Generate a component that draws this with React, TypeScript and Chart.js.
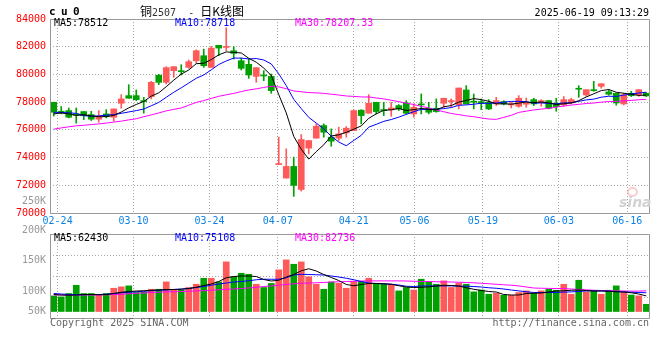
import React, { useEffect, useRef } from 'react';
import { Chart, registerables } from 'chart.js';

Chart.register(...registerables);

// ---------------- DATA ----------------
const dates = ['02-21','02-24','02-25','02-26','02-27','02-28','03-03','03-04','03-05','03-06','03-07','03-10','03-11','03-12','03-13','03-14','03-17','03-18','03-19','03-20','03-21','03-24','03-25','03-26','03-27','03-28','03-31','04-01','04-02','04-03','04-07','04-08','04-09','04-10','04-11','04-14','04-15','04-16','04-17','04-18','04-21','04-22','04-23','04-24','04-25','04-28','04-29','04-30','05-06','05-07','05-08','05-09','05-12','05-13','05-14','05-15','05-16','05-19','05-20','05-21','05-22','05-23','05-26','05-27','05-28','05-29','05-30','06-03','06-04','06-05','06-06','06-09','06-10','06-11','06-12','06-13','06-16','06-17','06-18','06-19'];

const tickLabels = ['02-24','03-10','03-24','04-07','04-21','05-06','05-19','06-03','06-16'];

const opens = [77990,77340,77390,77150,77320,77100,76770,77150,76910,77920,78470,78470,78110,78400,79940,79430,80270,80270,80510,80990,81350,80510,82100,81950,81710,80990,80730,79860,79960,79860,73500,72520,73360,71700,74680,75400,76310,75470,75400,75780,75950,77420,77200,77990,77440,77440,77750,77940,77150,77870,77560,77560,77920,78040,77800,78880,78070,78040,77990,77870,78040,77800,77700,77850,78180,77970,78110,77920,77800,77940,79000,78520,78900,79140,78740,78640,77870,78640,78520,78640];
const highs = [78000,77680,77580,77580,77320,77340,77390,77460,77510,78540,79260,78880,78350,79500,80010,80560,80560,80700,81040,81780,81830,82020,82100,83370,82000,81180,81110,80490,80270,80030,75470,74630,74030,75660,75230,76430,76430,76070,76190,76240,77440,77450,78540,77990,77990,77990,77820,78110,77870,78590,77990,78230,78280,78230,79020,79190,78590,78230,78180,78350,78100,77990,78470,78300,78280,78180,78110,78280,78400,78280,79190,78900,79500,79330,78900,78640,78640,78780,78900,78700];
const lows = [77000,77150,76860,76480,76740,76670,76550,76860,76620,77560,78280,78110,77200,78230,79260,79310,79790,79960,80440,80820,80510,80510,81350,81710,81110,80320,79720,79430,79550,78640,73500,72520,71200,71580,74270,75400,75470,74820,75230,75470,75950,76430,77200,77150,77030,76980,77390,77150,76910,77150,77150,77270,77630,77630,77510,77870,77510,77460,77460,77750,77800,77580,77630,77630,77750,77700,77510,77340,77700,77870,78350,78420,78780,79000,78500,77780,77800,78400,78420,78400];
const closes = [77270,77220,76910,77060,77030,76770,76960,76960,77510,78230,78280,78180,78040,79430,79430,80490,80560,80200,80920,81710,80630,81900,81900,81990,81520,80440,79960,80490,79890,78830,73550,73360,71990,75300,75230,76260,75830,75180,75710,76120,77390,77030,77920,77320,77390,77580,77510,77200,77630,77800,77270,77320,78280,78110,79020,77870,77990,77920,77510,78110,77870,77870,78280,77920,77870,78110,77560,77680,78180,78180,78930,78900,78830,79330,78570,77940,78540,78470,78900,78450];

const ma5 = [77150,77220,77150,77040,77098,76998,76946,76956,77046,77286,77588,77832,78048,78432,78672,79114,79590,80022,80320,80776,80804,81072,81412,81626,81588,81550,81162,80880,80460,79922,78544,77224,75524,74606,73886,74428,74922,75560,75642,75820,76046,76286,76834,77156,77410,77448,77544,77400,77462,77544,77482,77444,77660,77756,78000,78120,78254,78182,78062,77880,77880,77856,77928,78010,77962,78010,77948,77828,77880,77942,78106,78374,78604,78834,78912,78714,78642,78570,78484,78512];
const ma10 = [77270,77250,77230,77190,77020,76990,77010,77060,77100,77192,77293,77389,77502,77739,77979,78351,78711,79035,79376,79724,79959,80331,80717,80973,81182,81177,81117,81146,81043,80755,80047,79193,78202,77533,76904,76486,76073,75542,75124,74853,75237,75604,76197,76399,76615,76747,76915,77117,77309,77477,77465,77494,77530,77609,77772,77801,77849,77921,77909,77940,78000,78055,78055,78036,77921,77945,77902,77878,77945,77952,78058,78161,78216,78357,78427,78410,78508,78587,78659,78718];
const ma30 = [76050,76140,76220,76290,76330,76380,76430,76490,76560,76630,76720,76800,76950,77080,77220,77370,77480,77580,77780,77980,78110,78270,78420,78530,78630,78760,78880,78960,79060,79150,79100,78971,78807,78748,78688,78671,78634,78574,78514,78444,78414,78376,78372,78302,78234,78137,78035,77935,77825,77695,77583,77430,77310,77180,77097,77011,76946,76860,76781,76757,76901,77051,77261,77348,77436,77498,77555,77639,77721,77790,77841,77903,77934,78001,78040,78052,78086,78128,78170,78207.33];

const volumes = [62400,58400,72000,105000,72000,72000,65000,72000,93000,98500,102500,76000,78500,89000,89000,118500,89000,86000,96000,109000,133000,133000,118500,198500,138500,153000,149000,109000,96000,112000,166500,206500,189000,198500,138500,109000,89000,118000,113000,93000,120000,120000,133000,113000,109000,109000,82500,96000,86000,129000,118500,109000,122500,96000,113000,109000,78500,86000,69000,73000,65000,65000,76000,82500,73000,82500,89000,85000,109000,69000,125000,78500,82500,69000,85000,102500,78500,66000,62500,29000];
const volMa5 = [68000,66000,65000,66000,68000,68000,67000,68000,72000,77000,80000,82000,83000,85000,86000,88000,88000,89000,92000,97000,104000,110000,120000,135000,140000,142000,142000,140000,128000,122000,125000,138000,148000,163000,171000,162000,148000,136000,124000,108000,103000,108000,112000,112000,111000,109000,103000,98000,96000,97000,98500,102000,105000,104000,102000,95000,89000,84000,80000,78000,68000,66000,66000,72000,73000,74000,78000,82000,83000,85000,86000,84000,82000,82000,81000,79000,78000,75000,70000,62430];
const volMa10 = [72000,70000,68000,67000,67000,68000,68000,69000,72000,75000,77000,79000,81000,83000,85000,86000,88000,90000,92000,96000,100000,105000,110000,114000,118000,120000,123000,127000,129000,129000,129000,135000,146000,149000,148000,147000,146000,142000,138000,133000,127000,120000,114000,112000,111000,109000,106000,101000,100000,102000,102500,102500,102500,102500,101500,101000,100000,98000,95000,93000,90000,86000,82500,79000,76000,76000,76000,76500,77500,78500,80000,82500,82500,82500,81500,80000,78500,77000,76000,75108];
const volMa30 = [66000,66000,66000,66000,66000,66000,66000,67000,68000,69000,71000,73000,74000,76000,77000,78500,79000,80000,81000,82500,83000,85000,87000,89000,90000,92000,94000,97000,100000,102000,105000,108000,111000,113000,114000,115000,116000,118000,119000,120000,121000,122000,122500,122500,122500,122500,122500,122000,121000,120000,120000,119000,118500,118000,117000,116000,115000,113000,111000,109000,107000,105000,102500,98000,94000,93000,92500,92000,92000,90000,88500,86500,85000,84000,83000,82500,82000,81500,81500,82736];

const priceMin = 70000;
const priceMax = 84000;
const priceStep = 2000;
const volMin = -26000;
const volMax = 310000;
const volumeAxisLabels = ['250K', '200K', '150K', '100K', '50K'];

// ---------------- STYLE ----------------
const UP = '#ff5a5a';
const DOWN = '#00a000';
const GRID = '#a8a8a8';
const FRAME = '#999999';
const MONO = '"DejaVu Sans Mono", monospace';

const candleColors = closes.map((c, i) => (c >= opens[i] ? UP : DOWN));
const tickIdx = tickLabels.map((l) => dates.indexOf(l));

const framePlugin = {
  id: 'frame',
  afterDraw(chart: any) {
    const { ctx, chartArea: a } = chart;
    ctx.save();
    ctx.strokeStyle = FRAME;
    ctx.lineWidth = 1;
    ctx.beginPath();
    ctx.moveTo(a.left + 0.5, a.top + 0.5);
    ctx.lineTo(a.right - 0.5, a.top + 0.5);
    ctx.lineTo(a.right - 0.5, a.bottom + 0.5);
    ctx.lineTo(a.left + 0.5, a.bottom + 0.5);
    ctx.closePath();
    ctx.stroke();
    ctx.restore();
  },
};

const lineDs = (label: string, data: number[], color: string) => ({
  type: 'line' as const,
  label,
  data,
  borderColor: color,
  backgroundColor: color,
  borderWidth: 1,
  pointRadius: 0,
  tension: 0,
  fill: false,
  order: 0,
  xAxisID: 'x',
  yAxisID: 'y',
});

const dateAxis = (showLabels: boolean, height: number) => ({
  type: 'linear' as const,
  position: 'bottom' as const,
  offset: false,
  min: 0,
  max: dates.length - 1,
  afterBuildTicks: (s: any) => {
    s.ticks = tickIdx.map((v) => ({ value: v }));
  },
  afterFit: (s: any) => {
    s.height = height;
  },
  ticks: {
    display: showLabels,
    autoSkip: false,
    maxRotation: 0,
    padding: 2,
    color: '#0a82e6',
    font: { family: MONO, size: 10 },
    callback: (v: any) => dates[v as number],
  },
  grid: { color: GRID, drawTicks: false, lineWidth: 1, offset: false },
  border: { display: false, dash: [1, 2] },
});

function mainConfig(): any {
  return {
    type: 'bar',
    data: {
      labels: dates,
      datasets: [
        lineDs('MA5', ma5, '#000000'),
        lineDs('MA10', ma10, '#0000ff'),
        lineDs('MA30', ma30, '#ff00ff'),
        {
          type: 'bar',
          label: 'wick',
          data: lows.map((l, i) => [l, highs[i]]),
          backgroundColor: candleColors,
          barThickness: 1,
          grouped: false,
          order: 2,
          xAxisID: 'x',
          yAxisID: 'y',
        },
        {
          type: 'bar',
          label: 'body',
          data: opens.map((o, i) => [o, closes[i]]),
          backgroundColor: candleColors,
          barThickness: 6,
          minBarLength: 1,
          grouped: false,
          order: 1,
          xAxisID: 'x',
          yAxisID: 'y',
        },
      ],
    },
    options: {
      responsive: false,
      animation: false,
      events: [],
      layout: { padding: { top: 19, right: 10, left: 0, bottom: 0 } },
      plugins: { legend: { display: false }, tooltip: { enabled: false } },
      scales: {
        x: { type: 'category', display: false, offset: true },
        xd: dateAxis(true, 17),
        y: {
          position: 'left',
          min: priceMin,
          max: priceMax,
          afterFit: (s: any) => {
            s.width = 50;
          },
          ticks: {
            stepSize: priceStep,
            padding: 4,
            color: '#ff0000',
            font: { family: MONO, size: 10 },
            callback: (v: any) => String(v),
          },
          grid: { color: GRID, drawTicks: false },
          border: { display: false, dash: [1, 2] },
        },
      },
    },
    plugins: [framePlugin],
  };
}

function volumeConfig(): any {
  return {
    type: 'bar',
    data: {
      labels: dates,
      datasets: [
        lineDs('MA5', volMa5, '#000000'),
        lineDs('MA10', volMa10, '#0000ff'),
        lineDs('MA30', volMa30, '#ff00ff'),
        {
          type: 'bar',
          label: 'volume',
          data: volumes,
          backgroundColor: candleColors,
          barThickness: 6,
          grouped: false,
          order: 1,
          xAxisID: 'x',
          yAxisID: 'y',
        },
      ],
    },
    options: {
      responsive: false,
      animation: false,
      events: [],
      layout: { padding: { top: 4, right: 10, left: 0, bottom: 42 } },
      plugins: { legend: { display: false }, tooltip: { enabled: false } },
      scales: {
        x: { type: 'category', display: false, offset: true },
        xd: dateAxis(false, 0),
        y: {
          position: 'left',
          min: volMin,
          max: volMax,
          afterBuildTicks: (s: any) => {
            s.ticks = [0, 1, 2, 3, 4].map((k) => ({ value: s.min + ((s.max - s.min) * k) / 4 }));
          },
          afterFit: (s: any) => {
            s.width = 50;
          },
          ticks: { display: false },
          grid: { color: GRID, drawTicks: false },
          border: { display: false, dash: [1, 2] },
        },
      },
    },
    plugins: [framePlugin],
  };
}

// ---------------- TEXT HELPERS ----------------
const T: React.FC<{ left?: number; right?: number; top: number; color?: string; style?: React.CSSProperties; children: React.ReactNode }> = ({ left, right, top, color = '#000', style, children }) => (
  <div
    style={{
      position: 'absolute',
      left,
      right,
      top,
      color,
      fontFamily: MONO,
      fontSize: 10,
      lineHeight: '10px',
      whiteSpace: 'pre',
      ...style,
    }}
  >
    {children}
  </div>
);

const volLabelTops = [195.5, 224.8, 254.8, 285.5, 305.8];

export default function App() {
  const mainRef = useRef<HTMLCanvasElement>(null);
  const volRef = useRef<HTMLCanvasElement>(null);

  useEffect(() => {
    const c1 = new Chart(mainRef.current as HTMLCanvasElement, mainConfig());
    const c2 = new Chart(volRef.current as HTMLCanvasElement, volumeConfig());
    return () => {
      c1.destroy();
      c2.destroy();
    };
  }, []);

  return (
    <div style={{ position: 'fixed', left: 0, top: 0, width: 660, height: 360, background: '#fff', overflow: 'hidden' }}>
      <canvas ref={mainRef} width={660} height={230} style={{ position: 'absolute', left: 0, top: 0 }} />
      <canvas ref={volRef} width={660} height={130} style={{ position: 'absolute', left: 0, top: 230 }} />

      {/* header */}
      <T left={49} top={6} style={{ fontSize: 11, lineHeight: '11px', fontWeight: 'bold', letterSpacing: 5.4 }}>cu0</T>
      <div style={{ position: 'absolute', left: 140, top: 4.5, fontFamily: '"Noto Sans CJK SC"', fontSize: 12, lineHeight: '12px', whiteSpace: 'pre', color: '#000' }}>
        <span>铜</span>
        <span style={{ fontFamily: MONO, fontSize: 10, color: '#333' }}>{'2507  - '}</span>
        <span>日K线图</span>
      </div>
      <T right={11} top={7.5}>2025-06-19 09:13:29</T>

      {/* main legend */}
      <T left={54} top={18.2}>MA5:78512</T>
      <T left={175} top={18.2} color="#0000ff">MA10:78718</T>
      <T left={295} top={18.2} color="#ff00ff">MA30:78207.33</T>

      {/* volume axis labels */}
      {volumeAxisLabels.map((l, i) => (
        <T key={l} right={614} top={volLabelTops[i]} color="#999999" style={{ textAlign: 'right' }}>{l}</T>
      ))}

      {/* volume legend */}
      <T left={54} top={233.2}>MA5:62430</T>
      <T left={175} top={233.2} color="#0000ff">MA10:75108</T>
      <T left={295} top={233.2} color="#ff00ff">MA30:82736</T>

      {/* footer */}
      <T left={50} top={318.2} color="#666666">Copyright 2025 SINA.COM</T>
      <T right={11} top={318.2} color="#666666">http://finance.sina.com.cn</T>

      {/* sina watermark */}
      <div style={{ position: 'absolute', left: 627, top: 187, width: 7, height: 6, border: '2px solid rgba(240,110,110,0.35)', borderRadius: '50%' }} />
      <div style={{ position: 'absolute', left: 619, top: 195, fontFamily: '"DejaVu Sans"', fontStyle: 'italic', fontWeight: 'bold', fontSize: 14, lineHeight: '14px', color: '#d2d2d2' }}>sina</div>
    </div>
  );
}
